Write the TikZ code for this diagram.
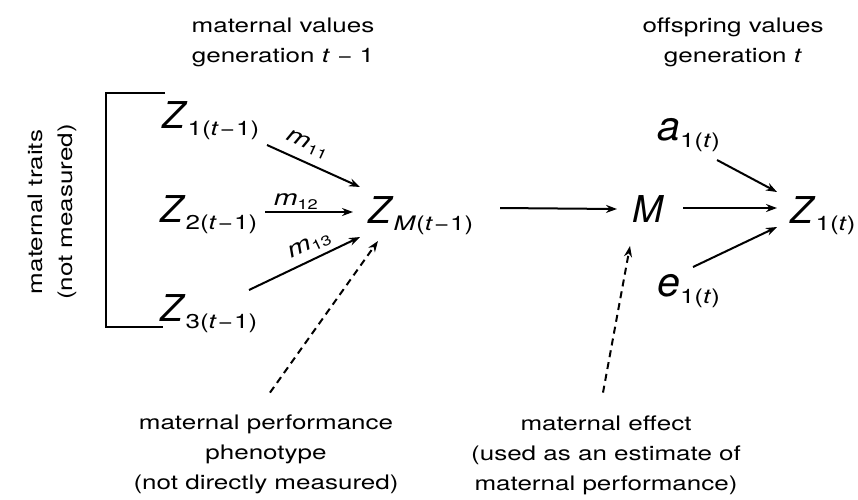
\documentclass[tikz,border=0pt]{standalone}
\usepackage{fontspec}
\setmainfont[FakeStretch=1.3]{TeX Gyre Heros}
\newfontfamily\varfam{TeX Gyre Heros}
\usepackage{tikz}
\usetikzlibrary{arrows.meta,calc}
\newcommand{\subf}{\fontsize{20}{20}\selectfont\normalfont}
\newcommand{\ti}{\textit{t}}
\newcommand{\mn}{\kern1pt−\kern1pt}
\newcommand{\tvar}[2]{\textit{#1}\raisebox{-7pt}{\subf #2}}
\newcommand{\coefm}[1]{\textit{m}\raisebox{-4pt}{\fontsize{14}{14}\selectfont #1}}

\begin{document}
\begin{tikzpicture}[x=1pt, y=-1pt,
  var/.style={anchor=base west, inner sep=0pt, font=\varfam\fontsize{37}{37}\selectfont},
  lbl/.style={align=center, inner sep=0pt, font=\fontsize{20}{30}\selectfont},
  coef/.style={inner sep=1pt, sloped, font=\fontsize{22}{22}\selectfont},
  arr/.style={-{Stealth[length=11pt, width=8pt]}, line width=2pt},
  dasharr/.style={arr, dash pattern=on 7pt off 5pt}]
 \useasboundingbox (0,0) rectangle (858,499);
 % column heads
 \node[lbl, anchor=north] (hmat) at (283,17.5) {maternal values\\generation \ti\ − 1};
 \node[lbl, anchor=north] (hoff) at (733,17.5) {offspring values\\generation \ti};
 \node[lbl, rotate=90] (traits) at (52,212) {maternal traits\\(not measured)};
 % variables
 \node[var] (z1) at (162,128) {\tvar{Z}{1(\ti\mn1)}};
 \node[var] (z2) at (160,222) {\tvar{Z}{2(\ti\mn1)}};
 \node[var] (z3) at (160,321) {\tvar{Z}{3(\ti\mn1)}};
 \node[var] (zm) at (368,223) {\tvar{Z}{\textit{M}(\ti\mn1)}};
 \node[var] (m) at (632,222) {\textit{M}};
 \node[var] (z1t) at (790,223) {\tvar{Z}{1(\ti)}};
 \node[var, font=\varfam\fontsize{41}{41}\selectfont] (a) at (657,140) {\tvar{a}{1(\ti)}};
 \node[var, font=\varfam\fontsize{41}{41}\selectfont] (e) at (657,296) {\tvar{e}{1(\ti)}};
 % notes
 \node[lbl, anchor=north] (pp) at (266,414.6) {maternal performance\\phenotype\\(not directly measured)};
 \node[lbl, anchor=north] (me) at (606,415.6) {maternal effect\\(used as an estimate of\\maternal performance)};
 % bracket round the traits
 \draw[line width=2pt] ([shift={(3,-35)}]z1.base west) -| ([shift={(-54,6)}]z3.base west) -- ([shift={(3,6)}]z3.base west);
 % arrows
 \draw[arr] ([shift={(105,17)}]z1.base west) -- node[coef, above=7pt, pos=0.36] (lm11) {\coefm{11}} ([shift={(-8,-36)}]zm.base west);
 \draw[arr] ([shift={(105,-10)}]z2.base west) -- node[coef, above=1pt, pos=0.35] (lm12) {\coefm{12}} ([shift={(-15,-11)}]zm.base west);
 \draw[arr] ([shift={(89,-31)}]z3.base west) -- node[coef, above=4pt, pos=0.6] (lm13) {\coefm{13}} ([shift={(-8,14)}]zm.base west);
 \draw[arr] ([shift={(132,-15)}]zm.base west) -- ([shift={(-15,-13)}]m.base west);
 \draw[arr] ([shift={(51,-14)}]m.base west) -- ([shift={(-13,-15)}]z1t.base west);
 \draw[arr] ([shift={(60,20)}]a.base west) -- ([shift={(-13,-31)}]z1t.base west);
 \draw[arr] ([shift={(36,-29)}]e.base west) -- ([shift={(-13,4)}]z1t.base west);
 \draw[dasharr] ([shift={(4,-22)}]pp.north) -- ([shift={(10,18)}]zm.base west);
 \draw[dasharr] ([shift={(-3,-23)}]me.north) -- ([shift={(-2,24)}]m.base west);
\end{tikzpicture}
\end{document}
